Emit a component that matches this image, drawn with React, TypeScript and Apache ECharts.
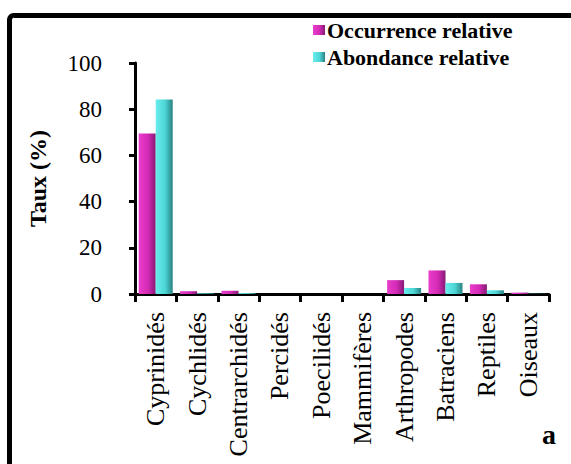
import React, { useEffect, useRef } from "react";
import * as echarts from "echarts";

const categories = ["Cyprinidés", "Cychlidés", "Centrarchidés", "Percidés", "Poecilidés", "Mammifères", "Arthropodes", "Batraciens", "Reptiles", "Oiseaux"];
const occurrence = [69.5, 1.2, 1.4, 0, 0, 0, 6, 10.2, 4.2, 0.6];
const abondance = [84.2, 0.3, 0.4, 0, 0, 0, 2.6, 4.8, 1.6, 0.1];
const seriesNames = ["Occurrence relative", "Abondance relative"];

const FONT = "Liberation Serif, Times New Roman, serif";

export default function App() {
  const ref = useRef<HTMLDivElement>(null);
  useEffect(() => {
    if (!ref.current) return;
    const chart = echarts.init(ref.current, null, { renderer: "svg" });
    const mag = new echarts.graphic.LinearGradient(0, 0, 1, 0, [
      { offset: 0, color: "#E83ECB" },
      { offset: 0.55, color: "#D42AB6" },
      { offset: 1, color: "#861A74" },
    ]);
    const cyan = new echarts.graphic.LinearGradient(0, 0, 1, 0, [
      { offset: 0, color: "#6AEDED" },
      { offset: 0.55, color: "#4CD6D6" },
      { offset: 1, color: "#2A8282" },
    ]);
    chart.setOption({
      animation: false,
      backgroundColor: "#ffffff",
      grid: { left: 135, right: 22, top: 63, bottom: 170, containLabel: false },
      legend: {
        orient: "vertical",
        left: 308,
        top: 14,
        itemWidth: 12,
        itemHeight: 10,
        itemGap: 5,
        icon: "rect",
        textStyle: { fontFamily: FONT, fontSize: 22, fontWeight: "bold", color: "#000", padding: [0, 0, 0, -3] },
        data: seriesNames,
      },
      xAxis: {
        type: "category",
        data: categories,
        axisLine: { lineStyle: { color: "#000", width: 3 } },
        axisTick: { show: true, length: 8, lineStyle: { color: "#000", width: 3 } },
        axisLabel: { rotate: 90, margin: 18, fontFamily: FONT, fontSize: 26, color: "#000", interval: 0 },
      },
      yAxis: {
        type: "value",
        min: 0,
        max: 100,
        interval: 20,
        name: "Taux (%)",
        nameLocation: "middle",
        nameGap: 85,
        nameTextStyle: { fontFamily: FONT, fontSize: 24, fontWeight: "bold", color: "#000" },
        axisLine: { show: true, lineStyle: { color: "#000", width: 3 } },
        axisTick: { show: true, length: 6, lineStyle: { color: "#000", width: 3 } },
        axisLabel: { margin: 33, fontFamily: FONT, fontSize: 23, color: "#000" },
        splitLine: { show: false },
      },
      series: [
        { name: seriesNames[0], type: "bar", data: occurrence, barWidth: 17, barGap: "0%", itemStyle: { color: mag } },
        { name: seriesNames[1], type: "bar", data: abondance, barWidth: 17, barGap: "0%", itemStyle: { color: cyan } },
      ],
      graphic: [
        {
          type: "rect",
          shape: { x: 9.5, y: 15.5, width: 620, height: 520, r: 4 },
          style: { fill: "none", stroke: "#000", lineWidth: 5 },
          silent: true,
        },
        {
          type: "text",
          x: 549,
          y: 448,
          style: { text: "a", font: `bold 28px ${FONT}`, fill: "#000", textAlign: "center", textVerticalAlign: "bottom" },
        },
      ],
    });
    return () => chart.dispose();
  }, []);
  return <div ref={ref} style={{ position: "fixed", left: 0, top: 0, width: 571, height: 464 }} />;
}
